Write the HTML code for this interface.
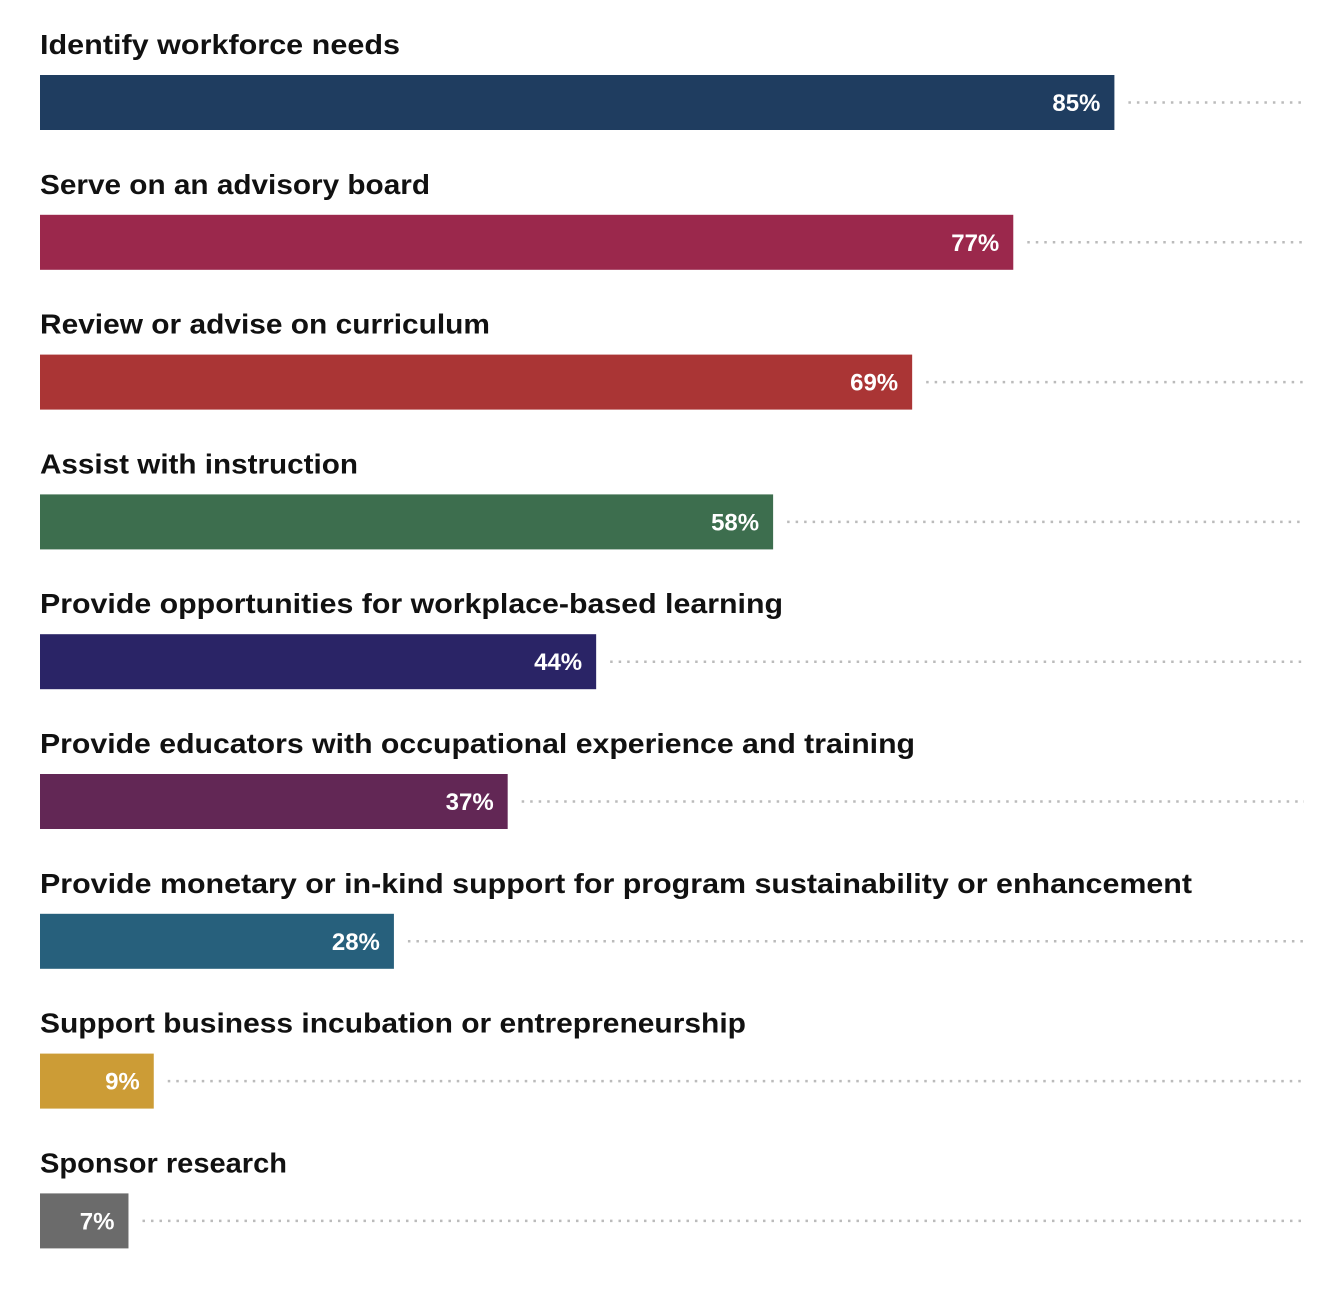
<!DOCTYPE html>
<html><head><meta charset="utf-8"><style>
html,body{margin:0;padding:0;background:#fff;}
svg{display:block;}
</style></head><body>
<svg id="chart" width="1344" height="1296" xmlns="http://www.w3.org/2000/svg"></svg>
<script>
const categories = ["Identify workforce needs","Serve on an advisory board","Review or advise on curriculum","Assist with instruction","Provide opportunities for workplace-based learning","Provide educators with occupational experience and training","Provide monetary or in-kind support for program sustainability or enhancement","Support business incubation or entrepreneurship","Sponsor research"];
const values = [85,77,69,58,44,37,28,9,7];
const valueLabels = ["85%","77%","69%","58%","44%","37%","28%","9%","7%"];
const colors = ["#1f3d60","#9b284c","#aa3535","#3d6e4e","#2a2466","#622755","#27607c","#cc9c36","#6b6b6b"];
const labelWidths = [360,390,450,318,743,875,1152,706,247];

const svg = document.getElementById('chart');
const NS = 'http://www.w3.org/2000/svg';
const x0 = 40, x100 = 1304;
const xScale = v => x0 + (x100 - x0) * v / 100;
const rowY = i => 75 + i * 139.8;

categories.forEach((cat, i) => {
  const y = rowY(i);
  const g = document.createElementNS(NS, 'g');
  
  

  const t = document.createElementNS(NS, 'text');
  
  
  t.setAttribute('x', x0);
  t.setAttribute('y', y - 21);
  t.setAttribute('font-family', 'Liberation Sans, sans-serif');
  t.setAttribute('font-weight', 'bold');
  t.setAttribute('font-size', '28');
  t.setAttribute('fill', '#111');
  t.setAttribute('textLength', labelWidths[i]);
  t.setAttribute('lengthAdjust', 'spacingAndGlyphs');
  t.textContent = cat;
  g.appendChild(t);

  const xe = xScale(values[i]);
  const r = document.createElementNS(NS, 'rect');
  
  
  r.setAttribute('x', x0);
  r.setAttribute('y', y);
  r.setAttribute('width', xe - x0);
  r.setAttribute('height', 55);
  r.setAttribute('fill', colors[i]);
  g.appendChild(r);

  const v = document.createElementNS(NS, 'text');
  
  
  v.setAttribute('x', xe - 14);
  v.setAttribute('y', y + 36);
  v.setAttribute('text-anchor', 'end');
  v.setAttribute('font-family', 'Liberation Sans, sans-serif');
  v.setAttribute('font-weight', 'bold');
  v.setAttribute('font-size', '24');
  v.setAttribute('fill', '#fff');
  v.textContent = valueLabels[i];
  g.appendChild(v);

  const l = document.createElementNS(NS, 'line');
  
  
  l.setAttribute('x1', xe + 14);
  l.setAttribute('x2', x100);
  l.setAttribute('y1', y + 27.5);
  l.setAttribute('y2', y + 27.5);
  l.setAttribute('stroke', '#bbb');
  l.setAttribute('stroke-width', '2.5');
  l.setAttribute('stroke-dasharray', '2.5 6');
  g.appendChild(l);

  svg.appendChild(g);
});
</script>
</body></html>
